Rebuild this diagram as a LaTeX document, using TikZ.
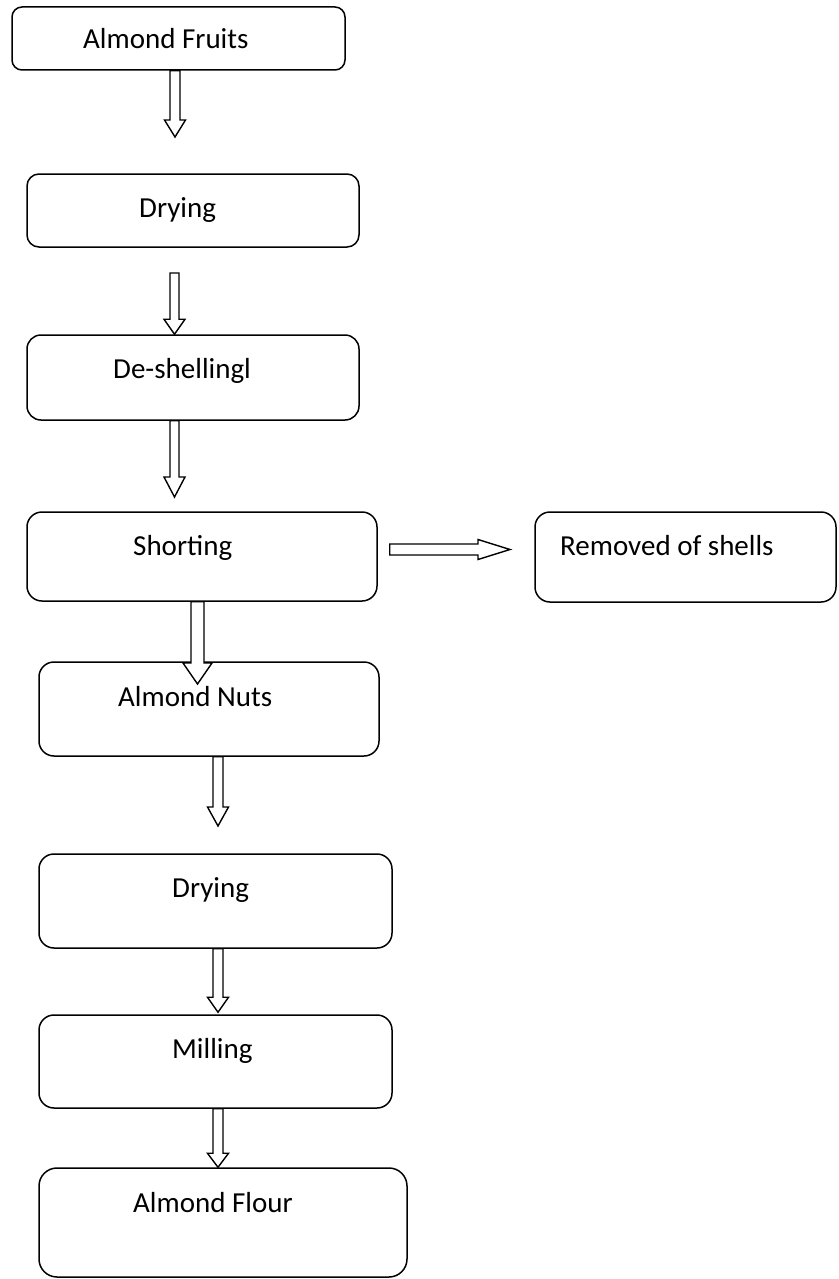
\documentclass[tikz,border=0pt]{standalone}
\usepackage{fontspec}
\setmainfont{Carlito}
\usetikzlibrary{calc}

\tikzset{
  stage/.style={draw, line width=1.5pt, inner sep=0pt},
  lbl/.style={anchor=base west, inner sep=0pt, font=\fontsize{29}{34}\selectfont},
  fat/.style={draw, line width=1.4pt, line join=miter, fill=white}
}

% hollow block arrows: #1 tail, #2 tip, #3 half shaft, #4 half head, #5 head length
\newcommand{\fatdown}[5]{%
  \draw[fat] ($(#1)+(-#3,0)$) -- ($(#2)+(-#3,-#5)$) -- ($(#2)+(-#4,-#5)$) -- (#2)
    -- ($(#2)+(#4,-#5)$) -- ($(#2)+(#3,-#5)$) -- ($(#1)+(#3,0)$) -- cycle;}
\newcommand{\fatright}[5]{%
  \draw[fat] ($(#1)+(0,-#3)$) -- ($(#2)+(-#5,-#3)$) -- ($(#2)+(-#5,-#4)$) -- (#2)
    -- ($(#2)+(-#5,#4)$) -- ($(#2)+(-#5,#3)$) -- ($(#1)+(0,#3)$) -- cycle;}

\begin{document}
\begin{tikzpicture}[x=1pt, y=-1pt]
  \useasboundingbox (0,0) rectangle (838,1279);

  % stages
  \node[stage, minimum width=333, minimum height=63, rounded corners=10] (fruits) at (178.5,38.5) {};
  \node[stage, minimum width=332, minimum height=73, rounded corners=12] (dry1) at (193,210.5) {};
  \node[stage, minimum width=332, minimum height=85, rounded corners=14] (deshell) at (193,377.5) {};
  \node[stage, minimum width=350, minimum height=89, rounded corners=15] (sort) at (202,556.5) {};
  \node[stage, minimum width=301, minimum height=90, rounded corners=15] (shells) at (685.5,557) {};
  \node[stage, minimum width=340, minimum height=94, rounded corners=15] (nuts) at (209,709) {};
  \node[stage, minimum width=353, minimum height=94, rounded corners=15] (dry2) at (215.5,901) {};
  \node[stage, minimum width=353, minimum height=93, rounded corners=15] (mill) at (215.5,1061.5) {};
  \node[stage, minimum width=368, minimum height=109, rounded corners=18] (flour) at (223,1222.5) {};

  % texts
  \node[lbl] (fruitstxt) at (83,49) {Almond Fruits};
  \node[lbl] (dry1txt) at (139,217) {Drying};
  \node[lbl] (deshelltxt) at (113,378) {De-shellingl};
  \node[lbl] (sorttxt) at (133,555) {Shorting};
  \node[lbl] (shellstxt) at (560,555) {Removed of shells};
  \node[lbl] (nutstxt) at (118,706) {Almond Nuts};
  \node[lbl] (dry2txt) at (172,897) {Drying};
  \node[lbl] (milltxt) at (172,1058) {Milling};
  \node[lbl] (flourtxt) at (133,1212) {Almond Flour};

  % arrow ends
  \coordinate (a1tail) at ($(fruits.south)+(-3.5,0)$);
  \coordinate (a1tip) at (175,137);
  \coordinate (a2tail) at (174.5,273);
  \coordinate (a2tip) at ($(deshell.north)+(-18.5,0)$);
  \coordinate (a3tail) at ($(deshell.south)+(-18.5,0)$);
  \coordinate (a3tip) at (174.5,497);
  \coordinate (a4tail) at ($(sort.south)+(-4.5,0)$);
  \coordinate (a4tip) at (197.5,684);
  \coordinate (a5tail) at ($(nuts.south)+(9,0)$);
  \coordinate (a5tip) at (218,826);
  \coordinate (a6tail) at ($(dry2.south)+(2.5,0)$);
  \coordinate (a6tip) at ($(mill.north)+(2.5,-2)$);
  \coordinate (a7tail) at ($(mill.south)+(2.5,0)$);
  \coordinate (a7tip) at ($(flour.north)+(-5,0)$);
  \coordinate (htail) at ($(sort.east)+(12,-7)$);
  \coordinate (htip) at (510,549.5);

  % arrows
  \fatdown{a1tail}{a1tip}{5}{10.5}{17}
  \fatdown{a2tail}{a2tip}{4.5}{10.5}{15}
  \fatdown{a3tail}{a3tip}{4.5}{10.5}{20}
  \fatdown{a4tail}{a4tip}{6.5}{14.5}{21}
  \fatdown{a5tail}{a5tip}{5}{10.5}{19}
  \fatdown{a6tail}{a6tip}{5}{10.5}{15}
  \fatdown{a7tail}{a7tip}{5}{10.5}{14}
  \fatright{htail}{htip}{5.5}{10}{32}
\end{tikzpicture}
\end{document}
